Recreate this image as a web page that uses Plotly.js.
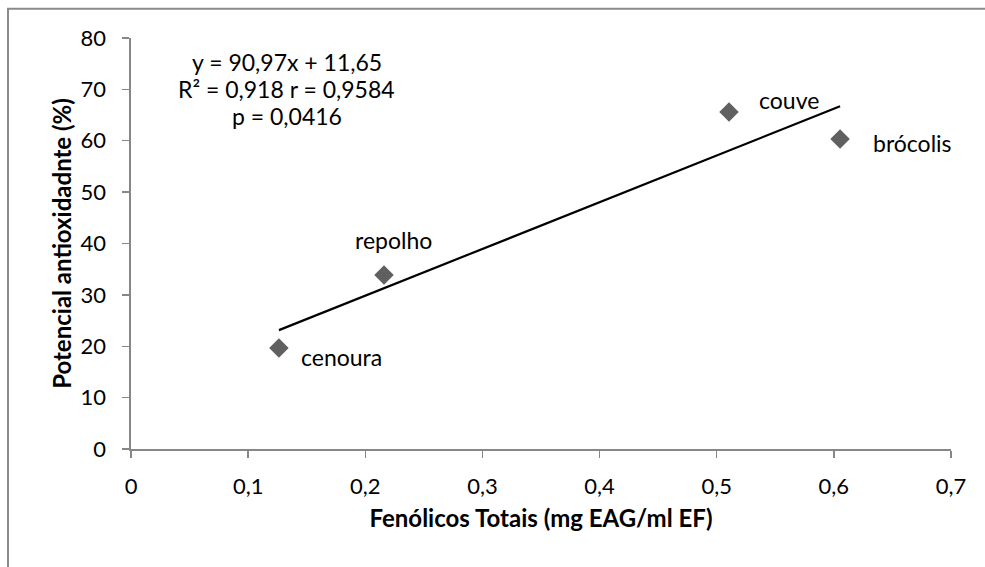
<!DOCTYPE html>
<html>
<head>
<meta charset="utf-8">
<script src="https://cdn.plot.ly/plotly-3.0.1.min.js"></script>
<style>html,body{margin:0;padding:0;background:#fff;}#chart{width:985px;height:567px;}</style>
</head>
<body>
<div id="chart"></div>
<script>
var categories = ["cenoura", "repolho", "couve", "brócolis"];
var fenolicos = [0.1263, 0.216, 0.5105, 0.6053];
var potencial = [19.66, 33.87, 65.6, 60.34];
var trendSlope = 90.97;
var trendIntercept = 11.65;
var xTicks = [0, 0.1, 0.2, 0.3, 0.4, 0.5, 0.6, 0.7];
var yTicks = [0, 10, 20, 30, 40, 50, 60, 70, 80];
var equationLines = ["y = 90,97x + 11,65", "R² = 0,918 r = 0,9584", "p = 0,0416"];
var xTitle = "Fenólicos Totais (mg EAG/ml EF)";
var yTitle = "Potencial antioxidadnte (%)";

var xMin = Math.min.apply(null, fenolicos), xMax = Math.max.apply(null, fenolicos);
var trendX = [xMin, xMax];
var trendY = trendX.map(function(v){ return trendSlope * v + trendIntercept; });

var FONT = "Lato, 'Open Sans', sans-serif";
var FS = 23;
var TFS = 22;
var traces = [
  {x: trendX, y: trendY, mode: "lines", line: {color: "#000", width: 2.2}, hoverinfo: "skip", showlegend: false},
  {x: fenolicos, y: potencial, mode: "markers", marker: {symbol: "diamond", size: 15, color: "#606060"}, showlegend: false}
];

var labelOffsets = {
  "cenoura": {xanchor: "left", xshift: 20, yshift: -9},
  "repolho": {xanchor: "center", xshift: 9, yshift: 35},
  "couve": {xanchor: "left", xshift: 28, yshift: 12},
  "brócolis": {xanchor: "left", xshift: 31, yshift: -4}
};
var annotations = categories.map(function(c, i){
  var o = labelOffsets[c];
  return {x: fenolicos[i], y: potencial[i], xref: "x", yref: "y", text: c, showarrow: false,
    xanchor: o.xanchor, yanchor: "middle", xshift: o.xshift, yshift: o.yshift,
    font: {family: FONT, size: FS, color: "#000"}};
});
var eqY = [0.9416, 0.876, 0.810];
equationLines.forEach(function(t, i){
  annotations.push({x: 0.19, y: eqY[i], xref: "paper", yref: "paper", text: t,
    showarrow: false, xanchor: "center", yanchor: "middle",
    font: {family: FONT, size: FS, color: "#000"}});
});
annotations.push({x: -0.085, y: 0.5, xref: "paper", yref: "paper", text: "<b>" + yTitle + "</b>",
  textangle: -90, showarrow: false, xanchor: "center", yanchor: "middle",
  font: {family: FONT, size: 24, color: "#000"}});

var layout = {
  width: 985, height: 567,
  margin: {l: 131, r: 34, t: 38, b: 118},
  paper_bgcolor: "#fff", plot_bgcolor: "#fff",
  separators: ", ",
  font: {family: FONT, size: FS, color: "#000"},
  xaxis: {range: [0, 0.7], tickvals: xTicks, ticktext: xTicks.map(function(v){return String(v).replace(".", ",");}),
    showgrid: false, zeroline: false, showline: true, linecolor: "#878787", linewidth: 1.6,
    ticks: "outside", ticklen: 7, tickwidth: 1.4, tickcolor: "#878787", ticklabelstandoff: 10,
    tickfont: {family: FONT, size: TFS},
    title: {text: "<b>" + xTitle + "</b>", font: {family: FONT, size: 24}, standoff: 12}},
  yaxis: {range: [0, 80], tickvals: yTicks, showgrid: false, zeroline: false, showline: true,
    linecolor: "#878787", linewidth: 1.6, ticks: "outside", ticklen: 7, tickwidth: 1.4, tickcolor: "#878787",
    ticklabelstandoff: 12, tickfont: {family: FONT, size: TFS}},
  shapes: [{type: "rect", xref: "paper", yref: "paper", x0: -0.15, x1: 1.06, y0: -0.31, y1: 1.071,
    line: {color: "#8a8a8a", width: 2}, fillcolor: "rgba(0,0,0,0)", layer: "below"}],
  annotations: annotations,
  showlegend: false
};
Plotly.newPlot("chart", traces, layout, {displayModeBar: false, staticPlot: true});
</script>
</body>
</html>
